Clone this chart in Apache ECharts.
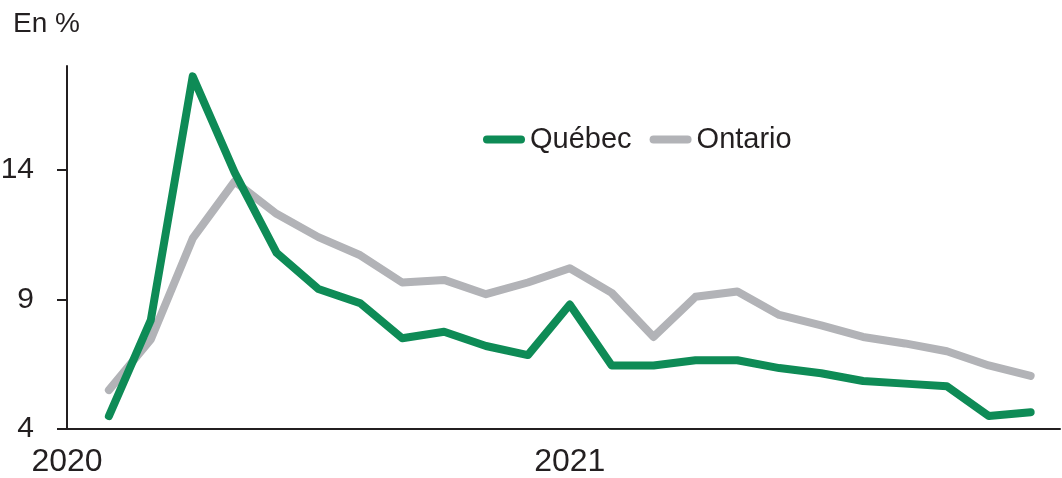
<!DOCTYPE html>
<html>
<head>
<meta charset="utf-8">
<script src="https://cdn.jsdelivr.net/npm/echarts@6/dist/echarts.min.js"></script>
<style>
  html, body { margin: 0; padding: 0; background: #fff; }
  #box { width: 1062px; height: 478px; }
</style>
</head>
<body>
<div id="box"></div>
<script>
// months on the x axis, Jan 2020 is the axis origin (no data)
var months = ["2020-01", "2020-02", "2020-03", "2020-04", "2020-05", "2020-06", "2020-07", "2020-08",
  "2020-09", "2020-10", "2020-11", "2020-12", "2021-01", "2021-02", "2021-03", "2021-04",
  "2021-05", "2021-06", "2021-07", "2021-08", "2021-09", "2021-10", "2021-11", "2021-12"];
var quebec = [null, 4.5, 8.2, 17.6, 13.9, 10.8, 9.4, 8.85, 7.5, 7.75, 7.2, 6.85, 8.8,
  6.45, 6.45, 6.65, 6.65, 6.35, 6.15, 5.85, 5.75, 5.65, 4.5, 4.65];
var ontario = [null, 5.5, 7.45, 11.35, 13.55, 12.3, 11.4, 10.7, 9.65, 9.75, 9.2, 9.65, 10.2,
  9.25, 7.55, 9.1, 9.3, 8.4, 8.0, 7.55, 7.3, 7.0, 6.45, 6.05];
var xTickMonths = ["2020-01", "2021-01"];
var yTicks = [4, 9, 14];

var font = "'Liberation Sans', Arial, sans-serif";
var green = "#0e8b56";
var grey = "#b2b3b7";

function pairs(arr) {
  var out = [];
  for (var i = 0; i < arr.length; i++) {
    if (arr[i] != null) out.push([i, arr[i]]);
  }
  return out;
}

var pill = "path://M4,0 L38,0 A4,4 0 0 1 38,8 L4,8 A4,4 0 0 1 4,0 Z";

var myChart = echarts.init(document.getElementById("box"));
var option = {
  animation: false,
  title: {
    text: "En %",
    left: 8,
    top: 5,
    textStyle: { fontFamily: font, fontSize: 28, fontWeight: "normal", color: "#231f20" }
  },
  legend: {
    left: 483,
    top: 125,
    padding: 0,
    itemWidth: 42,
    itemHeight: 8,
    itemGap: 18,
    textStyle: { fontFamily: font, fontSize: 29, color: "#231f20" },
    data: [
      { name: "Québec", icon: pill, itemStyle: { color: green } },
      { name: "Ontario", icon: pill, itemStyle: { color: grey } }
    ]
  },
  grid: { left: 67, right: 2, top: 66, bottom: 49, outerBoundsMode: "none", containLabel: false },
  xAxis: {
    type: "value",
    min: 0,
    max: 23.7,
    axisLine: { show: true, lineStyle: { color: "#231f20", width: 2 } },
    axisTick: { show: false },
    splitLine: { show: false },
    axisLabel: {
      customValues: xTickMonths.map(function (m) { return months.indexOf(m); }),
      formatter: function (v) { return months[Math.round(v)].slice(0, 4); },
      margin: 17,
      fontFamily: font,
      fontSize: 32,
      color: "#231f20"
    }
  },
  yAxis: {
    type: "value",
    min: 4,
    max: 18,
    axisLine: { show: true, lineStyle: { color: "#231f20", width: 2 } },
    axisTick: { show: true, inside: false, length: 10, customValues: yTicks, lineStyle: { color: "#231f20", width: 2 } },
    splitLine: { show: false },
    axisLabel: {
      customValues: yTicks,
      margin: 33,
      fontFamily: font,
      fontSize: 30,
      color: "#231f20"
    }
  },
  series: [
    {
      name: "Québec",
      type: "line",
      data: pairs(quebec),
      showSymbol: false,
      symbol: "none",
      color: green,
      lineStyle: { width: 8, color: green, cap: "round", join: "round" },
      z: 3
    },
    {
      name: "Ontario",
      type: "line",
      data: pairs(ontario),
      showSymbol: false,
      symbol: "none",
      color: grey,
      lineStyle: { width: 8, color: grey, cap: "round", join: "round" },
      z: 2
    }
  ]
};
myChart.setOption(option);
</script>
</body>
</html>
